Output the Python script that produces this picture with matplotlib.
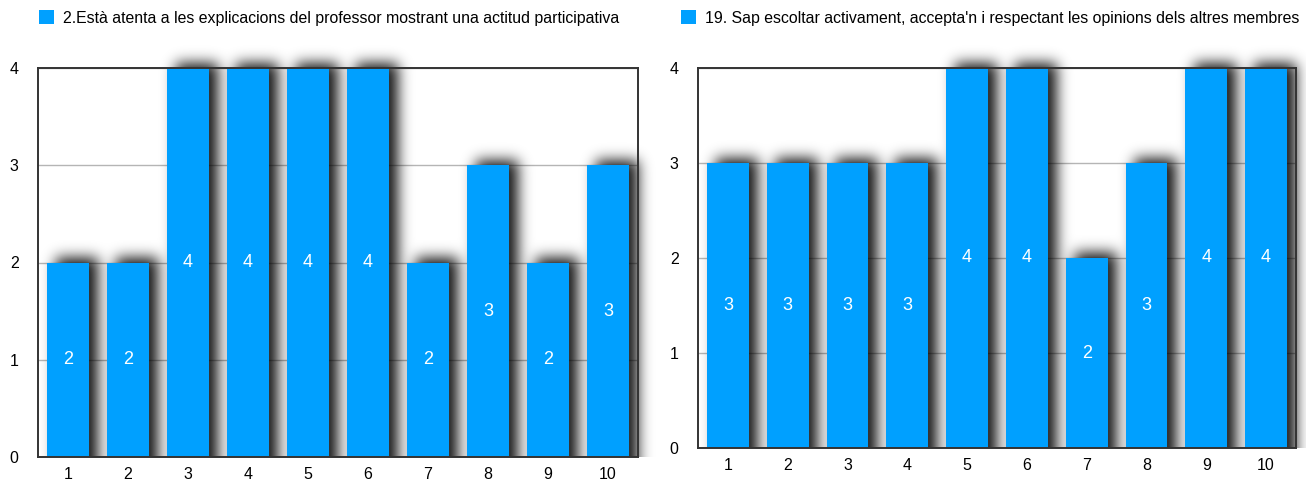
import numpy as np
import matplotlib.pyplot as plt

# Respostes per alumne (1..10) per a cada ítem
alumnes = [1, 2, 3, 4, 5, 6, 7, 8, 9, 10]
item2_titol = "2.Està atenta a les explicacions del professor mostrant una actitud participativa"
item2_valors = [2, 2, 4, 4, 4, 4, 2, 3, 2, 3]
item19_titol = "19. Sap escoltar activament, accepta'n i respectant les opinions dels altres membres"
item19_valors = [3, 3, 3, 3, 4, 4, 2, 3, 4, 4]
yticks = [0, 1, 2, 3, 4]

BLUE = "#00A0FF"
W, H = 1306, 482

plt.rcParams['font.family'] = ['Liberation Sans', 'DejaVu Sans']


def gauss_blur(img, sigma):
    r = int(3 * sigma)
    k = np.exp(-0.5 * (np.arange(-r, r + 1) / sigma) ** 2)
    k /= k.sum()
    img = np.apply_along_axis(lambda v: np.convolve(v, k, mode='same'), 0, img)
    img = np.apply_along_axis(lambda v: np.convolve(v, k, mode='same'), 1, img)
    return img


def draw_shadow(ax, xs, vals, width, px_x, px_y):
    # soft drop shadow behind each bar, shifted right and up
    dx, dy, sigma = 9 / px_x, 5 / px_y, 7.0
    x0, x1 = 0.3, 10.8
    y0, y1 = -0.4, 4.45
    nx = int((x1 - x0) * px_x)
    ny = int((y1 - y0) * px_y)
    gx = np.linspace(x0, x1, nx)
    gy = np.linspace(y0, y1, ny)
    X, Y = np.meshgrid(gx, gy)
    mask = np.zeros_like(X)
    for x, v in zip(xs, vals):
        inside = (X >= x - width / 2 + dx) & (X <= x + width / 2 + dx) & (Y <= v + dy)
        mask[inside] = 1.0
    mask = gauss_blur(mask, sigma)
    keep = gy >= 0
    mask = mask[keep]
    rgba = np.zeros(mask.shape + (4,))
    rgba[..., 3] = np.clip(mask * 1.15, 0, 1) * 0.8
    ax.imshow(rgba, extent=(x0, x1, 0, y1), origin='lower', aspect='auto',
              interpolation='bilinear', zorder=1, clip_on=False)


def draw_chart(ax, vals, title, legend_x, px_y):
    width = 0.7
    ax.set_xlim(0.5, 10.5)
    ax.set_ylim(0, 4)
    draw_shadow(ax, alumnes, vals, width, 60.0, px_y)
    bars = ax.bar(alumnes, vals, width=width, color=BLUE, zorder=2, label=title)
    for x, v in zip(alumnes, vals):
        ax.text(x, v / 2, str(v), color='white', fontsize=13,
                ha='center', va='center', zorder=3)
    ax.set_yticks(yticks)
    ax.set_xticks(alumnes)
    ax.yaxis.grid(True, color='#b5b5b5', linewidth=1.0, zorder=0)
    ax.set_axisbelow(True)
    ax.tick_params(length=0, labelsize=11.5)
    ax.tick_params(axis='y', pad=14)
    ax.tick_params(axis='x', pad=7)
    for s in ax.spines.values():
        s.set_color('#333333')
        s.set_linewidth(1.4)
        s.set_zorder(4)
    fig.legend(handles=[bars], loc='center left', frameon=False,
               bbox_to_anchor=(legend_x / W, 1 - 18 / H),
               handlelength=0.95, handleheight=0.95, handletextpad=0.55,
               borderaxespad=0, borderpad=0, fontsize=11.4)


fig = plt.figure(figsize=(W / 100, H / 100), dpi=100)

ax1 = fig.add_axes([38 / W, 1 - 457 / H, 600 / W, 389 / H])
draw_chart(ax1, item2_valors, item2_titol, 39, 389 / 4)

ax2 = fig.add_axes([698 / W, 1 - 448 / H, 598 / W, 380 / H])
draw_chart(ax2, item19_valors, item19_titol, 681, 380 / 4)

fig.savefig("out.png", dpi=100)
